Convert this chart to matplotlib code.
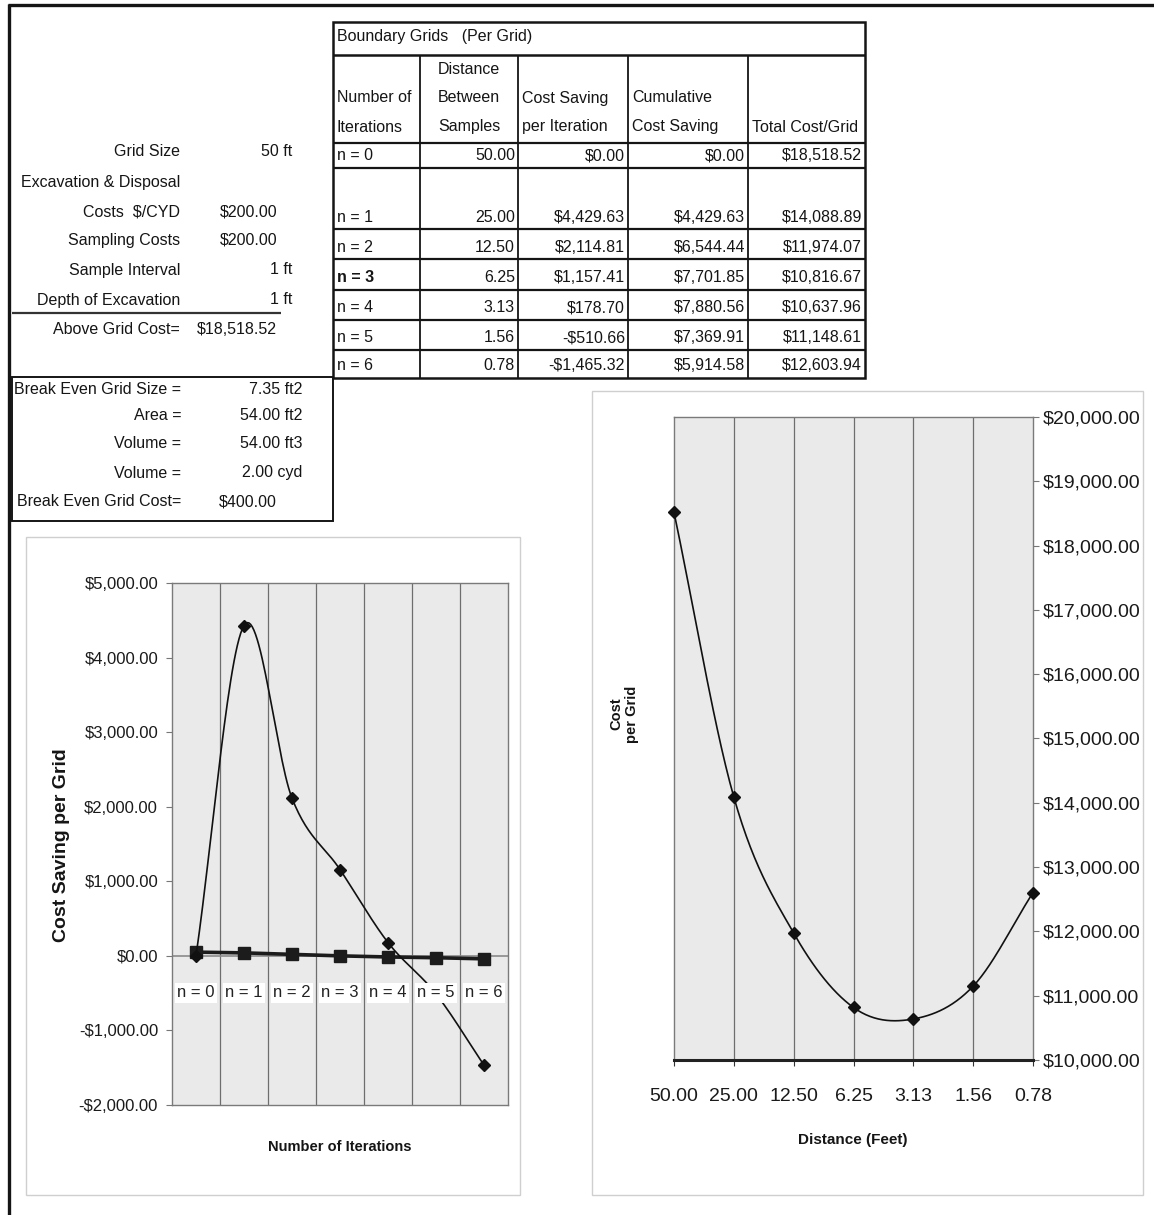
import numpy as np
import matplotlib
matplotlib.use("Agg")
import matplotlib.pyplot as plt
from matplotlib.patches import Rectangle

plt.rcParams['font.family'] = ['Liberation Sans', 'DejaVu Sans']

W, H = 1154, 1215

# boundary grid table
iterations = ['n = 0', 'n = 1', 'n = 2', 'n = 3', 'n = 4', 'n = 5', 'n = 6']
distance = [50.00, 25.00, 12.50, 6.25, 3.13, 1.56, 0.78]
saving = [0.00, 4429.63, 2114.81, 1157.41, 178.70, -510.66, -1465.32]
cumulative = [0.00, 4429.63, 6544.44, 7701.85, 7880.56, 7369.91, 5914.58]
total_cost = [18518.52, 14088.89, 11974.07, 10816.67, 10637.96, 11148.61, 12603.94]
# second (flat) series on the savings chart
flat_series = [50, 40, 20, 0, -15, -25, -40]

input_labels = ['Grid Size', 'Excavation & Disposal', 'Costs  $/CYD', 'Sampling Costs',
                'Sample Interval', 'Depth of Excavation', 'Above Grid Cost=']
input_values = ['50 ft', '', '$200.00', '$200.00', '1 ft', '1 ft', '$18,518.52']
break_labels = ['Break Even Grid Size =', 'Area =', 'Volume =', 'Volume =', 'Break Even Grid Cost=']
break_values = ['7.35 ft2', '54.00 ft2', '54.00 ft3', '2.00 cyd', '$400.00']

saving_ticks = [-2000, -1000, 0, 1000, 2000, 3000, 4000, 5000]
cost_ticks = list(range(10000, 20001, 1000))


def money(v):
    s = "${:,.2f}".format(abs(v))
    return "-" + s if v < 0 else s


def smooth(y, steps=30):
    # Catmull-Rom through the points, like a spreadsheet "smoothed line"
    p = np.asarray(y, dtype=float)
    ext = np.concatenate([[2 * p[0] - p[1]], p, [2 * p[-1] - p[-2]]])
    xs, ys = [], []
    for i in range(len(p) - 1):
        p0, p1, p2, p3 = ext[i:i + 4]
        t = np.linspace(0, 1, steps)
        yy = 0.5 * (2 * p1 + (-p0 + p2) * t + (2 * p0 - 5 * p1 + 4 * p2 - p3) * t ** 2
                    + (-p0 + 3 * p1 - 3 * p2 + p3) * t ** 3)
        xs.append(i + t)
        ys.append(yy)
    return np.concatenate(xs), np.concatenate(ys)


def px_box(l, t, r, b):
    return [l / W, 1 - b / H, (r - l) / W, (b - t) / H]


fig = plt.figure(figsize=(W / 100, H / 100), dpi=100)
page = fig.add_axes([0, 0, 1, 1])
page.set_xlim(0, W)
page.set_ylim(H, 0)
page.axis('off')

ink = '#151515'


def hline(y, x0, x1, lw=1.3, color=ink):
    page.plot([x0, x1], [y, y], color=color, lw=lw, solid_capstyle='butt')


def vline(x, y0, y1, lw=1.3, color=ink):
    page.plot([x, x], [y0, y1], color=color, lw=lw, solid_capstyle='butt')


def txt(x, y, s, ha='left', size=11.5, **kw):
    page.text(x, y, s, ha=ha, va='center', fontsize=size, color=ink, **kw)


# page border
hline(5, 8, W, lw=2.4)
vline(9, 4, H, lw=2.4)

# input panel
in_y = [152, 183, 212, 240, 270, 300, 330]
for lab, val, y in zip(input_labels, input_values, in_y):
    txt(180, y, lab, ha='right')
    if val:
        txt(292 if val.endswith('ft') else 277, y, val, ha='right')
hline(313, 12, 281, lw=1.6, color='#333')

# break-even box
page.add_patch(Rectangle((12, 377), 321, 144, fill=False, lw=1.4, ec=ink))
be_y = [389, 415, 443, 473, 502]
for lab, val, y in zip(break_labels, break_values, be_y):
    txt(181, y, lab, ha='right')
    txt(277 if val.startswith('$') else 302, y, val, ha='right')

# boundary grid table
tl, tr, tt, tb = 333, 865, 22, 378
row_lines = [143, 168, 229, 259, 290, 320, 350]
col_lines = [420, 518, 628, 748]
page.add_patch(Rectangle((tl, tt), tr - tl, tb - tt, fill=False, lw=1.8, ec=ink))
hline(55, tl, tr, lw=1.8)
for y in row_lines:
    hline(y, tl, tr, lw=1.6)
for x in col_lines:
    vline(x, 55, tb, lw=1.3)
txt(337, 37, 'Boundary Grids   (Per Grid)')
txt(438, 70, 'Distance')
for x, s in zip([337, 438, 522, 632], ['Number of', 'Between', 'Cost Saving', 'Cumulative']):
    txt(x, 98, s)
for x, s in zip([337, 438, 522, 632, 752], ['Iterations', 'Samples', 'per Iteration',
                                            'Cost Saving', 'Total Cost/Grid']):
    txt(x, 127, s)
row_bottoms = row_lines[1:] + [tb]
for i, yb in enumerate(row_bottoms):
    y = yb - 12
    txt(337, y, iterations[i], fontweight='bold' if i == 3 else 'normal')
    txt(515, y, "{:.2f}".format(distance[i]), ha='right')
    txt(625, y, money(saving[i]), ha='right')
    txt(745, y, money(cumulative[i]), ha='right')
    txt(862, y, money(total_cost[i]), ha='right')

# chart frames
page.add_patch(Rectangle((26, 537), 494, 658, fill=False, lw=1.0, ec='#cfcfcf'))
page.add_patch(Rectangle((592, 391), 551, 804, fill=False, lw=1.0, ec='#cfcfcf'))

plot_bg = '#eaeaea'
grid_c = '#6e6e6e'

# cost saving per iteration chart
axL = fig.add_axes(px_box(172, 583, 508, 1105))
axL.set_facecolor(plot_bg)
xi = np.arange(len(iterations))
axL.set_xlim(-0.5, len(iterations) - 0.5)
axL.set_ylim(-2000, 5000)
for b in np.arange(0.5, len(iterations) - 1, 1.0):
    axL.axvline(b, color=grid_c, lw=0.9, zorder=1)
axL.axhline(0, color='#8a8a8a', lw=1.2, zorder=1)
axL.plot(xi, flat_series, color='#1c1c1c', lw=2.6, marker='s', ms=8.5, zorder=3)
sx, sy = smooth(saving)
axL.plot(sx, sy, color='#111', lw=1.2, zorder=4)
axL.plot(xi, saving, ls='none', marker='D', ms=6.5, color='#111', zorder=4)
for i, lab in enumerate(iterations):
    axL.annotate(lab, (i, 0), xytext=(0, -37), textcoords='offset pixels',
                 ha='center', va='center', fontsize=12, color='#222', zorder=6,
                 bbox=dict(boxstyle='square,pad=0.15', fc='white', ec='none'),
                 annotation_clip=False)
axL.set_xticks([])
axL.set_yticks(saving_ticks)
axL.set_yticklabels([money(v) for v in saving_ticks], fontsize=12, color='#1a1a1a')
axL.tick_params(axis='y', length=4, color='#777', pad=6)
for sp in axL.spines.values():
    sp.set_color('#7a7a7a')
    sp.set_linewidth(1.0)
fig.text(62 / W, 1 - 845 / H, 'Cost Saving per Grid', rotation=90, ha='center', va='center',
         fontsize=14, fontweight='bold', color=ink)
fig.text(340 / W, 1 - 1147 / H, 'Number of Iterations', ha='center', va='center',
         fontsize=10.5, fontweight='bold', color=ink)

# total cost per grid chart
axR = fig.add_axes(px_box(674, 417, 1033, 1060))
axR.set_facecolor(plot_bg)
xd = np.arange(len(distance))
axR.set_xlim(0, len(distance) - 1)
axR.set_ylim(10000, 20000)
for x in xd[1:-1]:
    axR.axvline(x, color=grid_c, lw=0.9, zorder=1)
rx, ry = smooth(total_cost)
axR.plot(rx, ry, color='#111', lw=1.2, zorder=4)
axR.plot(xd, total_cost, ls='none', marker='D', ms=6.5, color='#111', zorder=4, clip_on=False)
axR.set_xticks(xd)
axR.set_xticklabels(["{:.2f}".format(d) for d in distance], fontsize=14, color='#1a1a1a')
axR.tick_params(axis='x', length=4, color='#333', pad=16)
axR.yaxis.tick_right()
axR.set_yticks(cost_ticks)
axR.set_yticklabels([money(v) for v in cost_ticks], fontsize=14, color='#1a1a1a')
axR.tick_params(axis='y', length=4, color='#777', pad=3)
for sp in axR.spines.values():
    sp.set_color('#7a7a7a')
    sp.set_linewidth(1.0)
axR.spines['bottom'].set_color('#222')
axR.spines['bottom'].set_linewidth(2.2)
fig.text(624 / W, 1 - 714 / H, 'Cost\nper Grid', rotation=90, ha='center', va='center',
         fontsize=10.5, fontweight='bold', color=ink, multialignment='center', linespacing=1.1)
fig.text(853 / W, 1 - 1140 / H, 'Distance (Feet)', ha='center', va='center',
         fontsize=11, fontweight='bold', color=ink)

fig.savefig('out.png', dpi=100, facecolor='white')
